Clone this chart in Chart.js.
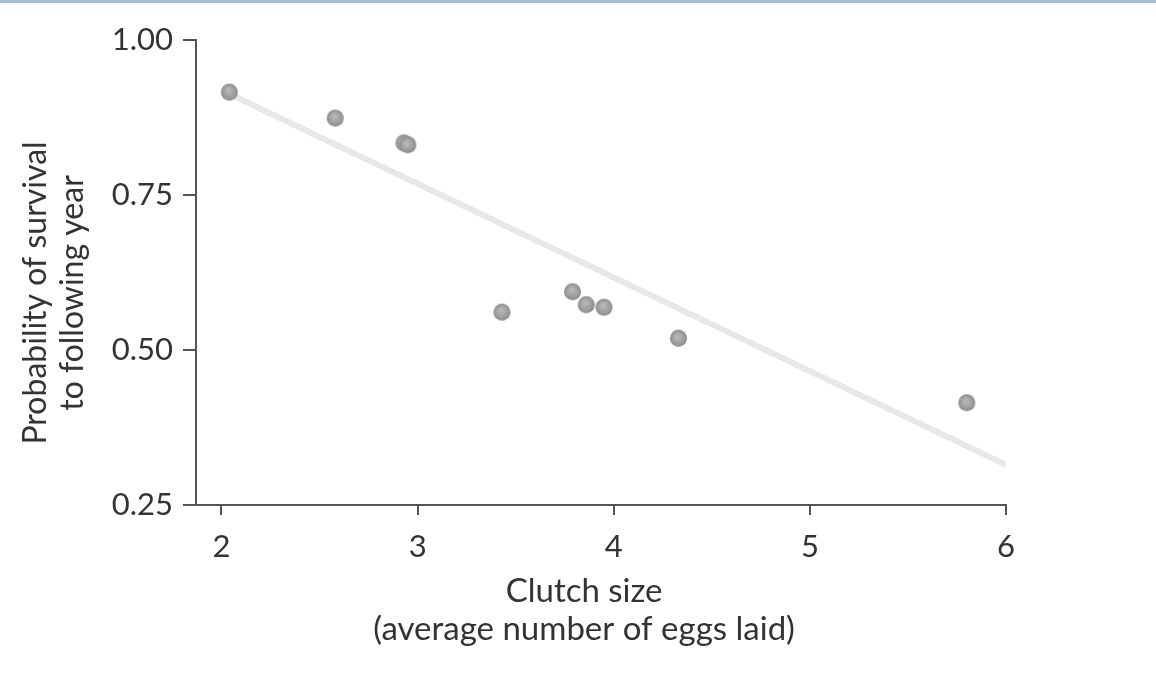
<!DOCTYPE html>
<html>
<head>
<meta charset="utf-8">
<script src="https://cdn.jsdelivr.net/npm/chart.js@4"></script>
<style>
  html, body { margin: 0; padding: 0; background: #fff; }
  body { width: 1156px; height: 688px; overflow: hidden; }
  #top { height: 3px; background: #a9bfd9; }
  canvas { display: block; }
</style>
</head>
<body>
<div id="top"></div>
<canvas id="chart" width="1156" height="685"></canvas>
<script>
// clutch size vs survival
const clutchSize = [2.04, 2.58, 2.93, 2.95, 3.43, 3.79, 3.86, 3.95, 4.33, 5.80];
const survival   = [0.916, 0.874, 0.834, 0.831, 0.561, 0.594, 0.573, 0.569, 0.519, 0.415];

// fitted line, two ends
const fitX = [2.06, 6.0];
const fitY = [0.910, 0.315];

const xTicks = [2, 3, 4, 5, 6];
const yTicks = [0.25, 0.50, 0.75, 1.00];

const FONT = "Lato, 'Open Sans', sans-serif";
const FSIZE = 31;

// little shaded ball for the points
function makeBall(r)
{
    const c = document.createElement("canvas");
    const s = r * 2 + 2;
    c.width = s;
    c.height = s;
    const g = c.getContext("2d");
    const grad = g.createRadialGradient(s * 0.45, s * 0.4, 1, s / 2, s / 2, r);
    grad.addColorStop(0, "#b8b8b8");
    grad.addColorStop(0.7, "#9c9c9c");
    grad.addColorStop(1, "#878787");
    g.fillStyle = grad;
    g.beginPath();
    g.arc(s / 2, s / 2, r, 0, Math.PI * 2);
    g.fill();
    return c;
}

const ball = makeBall(8.5);

const points = clutchSize.map((x, i) => ({x: x, y: survival[i]}));
const fit = fitX.map((x, i) => ({x: x, y: fitY[i]}));

const axisColor = "#555";
const textColor = "#333";

new Chart(document.getElementById("chart"), {
    type: "scatter",
    data: {
        datasets: [
            {
                label: "Species",
                data: points,
                pointStyle: ball,
                pointRadius: 8,
                pointHoverRadius: 8,
                order: 0
            },
            {
                type: "line",
                label: "Fit",
                data: fit,
                borderColor: "#e8e8e8",
                borderWidth: 6,
                pointRadius: 0,
                fill: false,
                order: 1
            }
        ]
    },
    options: {
        responsive: false,
        animation: false,
        layout: {padding: {left: 17, top: 37, right: 150, bottom: 0}},
        plugins: {
            legend: {display: false},
            tooltip: {enabled: false}
        },
        scales: {
            x: {
                type: "linear",
                min: 1.87,
                max: 6,
                afterBuildTicks: (s) => { s.ticks = xTicks.map(v => ({value: v})); },
                afterFit: (s) => { s.height = 183; },
                border: {display: true, color: axisColor, width: 2},
                grid: {drawOnChartArea: false, drawTicks: true, tickLength: 10, color: axisColor, lineWidth: 2},
                ticks: {
                    color: textColor,
                    padding: 13,
                    font: {family: FONT, size: FSIZE},
                    callback: (v) => String(v)
                },
                title: {
                    display: true,
                    // trailing spaces nudge the centred text a little to the left, like the original
                    text: ["Clutch size    ", "(average number of eggs laid)    "],
                    color: textColor,
                    font: {family: FONT, size: 33, lineHeight: 1.15},
                    padding: {top: 0, bottom: 40}
                }
            },
            y: {
                type: "linear",
                min: 0.25,
                max: 1.0,
                afterBuildTicks: (s) => { s.ticks = yTicks.map(v => ({value: v})); },
                afterFit: (s) => { s.width = 179; },
                border: {display: true, color: axisColor, width: 2},
                grid: {drawOnChartArea: false, drawTicks: true, tickLength: 13, color: axisColor, lineWidth: 2},
                ticks: {
                    color: textColor,
                    padding: 10,
                    font: {family: FONT, size: FSIZE},
                    callback: (v) => Number(v).toFixed(2)
                },
                title: {
                    display: true,
                    // same trick: pushes the rotated title slightly down
                    text: ["Probability of survival     ", "to following year     "],
                    color: textColor,
                    font: {family: FONT, size: 32, lineHeight: 1.15},
                    padding: {top: 0, bottom: 0}
                }
            }
        }
    }
});
</script>
</body>
</html>
